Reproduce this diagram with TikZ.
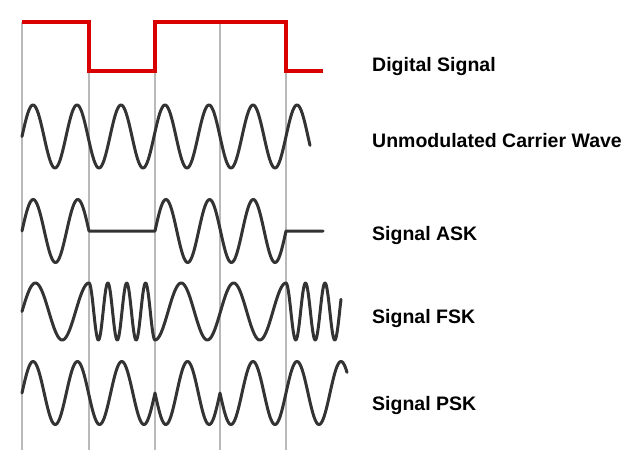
\documentclass[tikz,border=0pt]{standalone}
\usepackage{fontspec}
\setmainfont{Liberation Sans}
\begin{document}
\begin{tikzpicture}[x=1pt,y=-1pt,
  gridline/.style={draw=gray!55, line width=1.4pt},
  wave/.style={draw=black!80, line width=3pt, line join=round, line cap=round},
  digital/.style={draw=red!85!black, line width=3.5pt, line join=miter},
  lbl/.style={anchor=base west, inner sep=0pt, font=\fontsize{19.5}{23}\selectfont\bfseries}]
\useasboundingbox (0,0) rectangle (624,450);
\fill[white] (0,0) rectangle (624,450);
% grid lines
\foreach \gx/\gy in {22/22, 89/71, 155/22, 220/22, 286/71}
  \draw[gridline] (\gx,\gy) -- (\gx,450);
% digital signal
\draw[digital] (22,22) -- (89,22) -- (89,71) -- (155,71) -- (155,22) -- (286,22) -- (286,71) -- (323,71);
% carrier
\draw[wave] plot[domain=22:310, samples=300] (\x, {136.5 - 31.5*sin((\x-22)/44*360)});
% ASK
\draw[wave] plot[domain=22:89, samples=80] (\x, {231 - 31.5*sin((\x-22)/44.667*360)})
  -- (155,231)
  -- plot[domain=155:286, samples=150] (\x, {231 - 31.5*sin((\x-155)/43.667*360)})
  -- (323,231);
% FSK
\draw[wave] plot[domain=22:89, samples=80] (\x, {311.5 - 28.5*sin((\x-22)/53.6*360)})
  -- plot[domain=89:155, samples=150] (\x, {311.5 - 28.5*sin((1.25+(\x-89)/18.857)*360)})
  -- plot[domain=155:286, samples=150] (\x, {311.5 - 28.5*sin((4.75+(\x-155)/52.4)*360)})
  -- plot[domain=286:341, samples=130] (\x, {311.5 - 28.5*sin((7.25+(\x-286)/19.5)*360)});
% PSK
\draw[wave] plot[domain=22:155, samples=150] (\x, {393 - 31.5*sin((\x-22)/44.333*360)})
  -- plot[domain=155:220, samples=80] (\x, {393 - 31.5*sin((0.5+(\x-155)/43.333)*360)})
  -- plot[domain=220:347, samples=150] (\x, {393 - 31.5*sin((0.5+(\x-220)/44)*360)});
% labels
\node[lbl] (ld) at (372,71) {Digital Signal};
\node[lbl] (lc) at (372,147) {Unmodulated Carrier Wave};
\node[lbl] (la) at (372,240) {Signal ASK};
\node[lbl] (lf) at (372,323) {Signal FSK};
\node[lbl] (lp) at (372,410) {Signal PSK};
\end{tikzpicture}
\end{document}
